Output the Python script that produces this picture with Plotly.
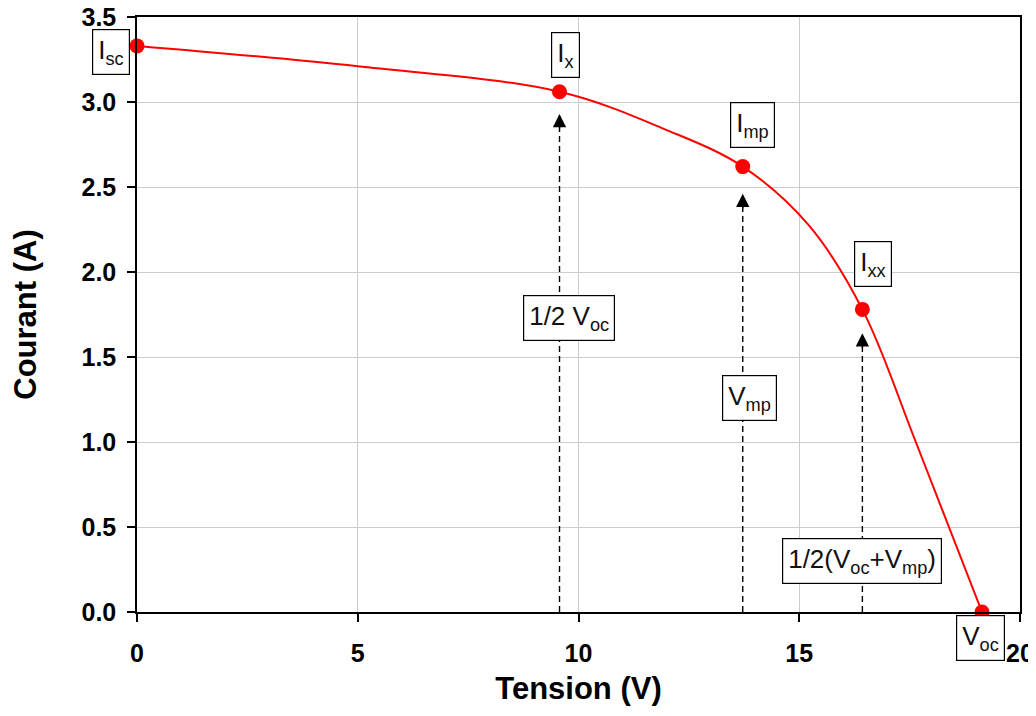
import plotly.graph_objects as go

# I-V curve
volts = [0.0, 5.0, 9.57, 12.0, 13.72, 15.2, 16.43, 17.64, 19.14]
amps = [3.33, 3.21, 3.06, 2.835, 2.62, 2.28, 1.78, 1.00, 0.0]

# Key points
pt_names = ["I<sub>sc</sub>", "I<sub>x</sub>", "I<sub>mp</sub>", "I<sub>xx</sub>", "V<sub>oc</sub>"]
pt_v = [0.0, 9.57, 13.72, 16.43, 19.14]
pt_i = [3.33, 3.06, 2.62, 1.78, 0.0]

# Voltage markers (dashed arrows)
arrow_names = ["1/2 V<sub>oc</sub>", "V<sub>mp</sub>", "1/2(V<sub>oc</sub>+V<sub>mp</sub>)"]
arrow_v = [9.57, 13.72, 16.43]
arrow_tip = [2.93, 2.46, 1.64]

x_ticks = [0, 5, 10, 15, 20]
y_ticks = [0.0, 0.5, 1.0, 1.5, 2.0, 2.5, 3.0, 3.5]

FONT = "Arial, 'Liberation Sans', sans-serif"

fig = go.Figure()

fig.add_trace(go.Scatter(x=volts, y=amps, mode="lines",
                         line=dict(color="#ff0000", width=2, shape="spline", smoothing=1.0),
                         hoverinfo="skip", showlegend=False, cliponaxis=False))

for v, t in zip(arrow_v, arrow_tip):
    fig.add_trace(go.Scatter(x=[v, v], y=[0, t], mode="lines",
                             line=dict(color="black", width=1.4, dash="6px,4px"),
                             hoverinfo="skip", showlegend=False))
    fig.add_annotation(x=v, y=t, ax=0, ay=16, xref="x", yref="y", text="",
                       showarrow=True, arrowhead=2, arrowsize=1.9, arrowwidth=1.4,
                       arrowcolor="black", standoff=0)

fig.add_trace(go.Scatter(x=pt_v, y=pt_i, mode="markers",
                         marker=dict(color="#ff0000", size=15),
                         hoverinfo="skip", showlegend=False, cliponaxis=False))

box = dict(showarrow=False, xref="x", yref="y", xanchor="center", yanchor="middle",
           bgcolor="white", bordercolor="black", borderwidth=1.2, borderpad=5,
           font=dict(family=FONT, size=26, color="#111111"))

# label offsets in pixels relative to each point (layout)
pt_label_shift = [(-26, -6), (6, 37), (10, 42), (11, 45), (-2, -26)]
for name, v, i, (sx, sy) in zip(pt_names, pt_v, pt_i, pt_label_shift):
    fig.add_annotation(x=v, y=i, text=name, xshift=sx, yshift=sy, **box)

# arrow label positions: (pixel x offset, y in data units)
arrow_label_pos = [(9, 1.73), (7, 1.26), (0, 0.30)]
for name, v, (sx, ly) in zip(arrow_names, arrow_v, arrow_label_pos):
    fig.add_annotation(x=v, y=ly, text=name, xshift=sx, **box)

axis_common = dict(showline=True, linecolor="black", linewidth=1.5, mirror=True,
                   ticks="outside", ticklen=8, tickwidth=1.5, tickcolor="black",
                   showgrid=True, gridcolor="#cccccc", gridwidth=1, zeroline=False,
                   ticklabeloverflow="allow",
                   tickfont=dict(family=FONT, size=25, color="black", weight="bold"))

fig.update_xaxes(range=[0, 20], tickvals=x_ticks, ticktext=[str(t) for t in x_ticks],
                 ticklabelstandoff=10,
                 title=dict(text="<b>Tension (V)</b>", font=dict(family=FONT, size=31, color="black"), standoff=12),
                 **axis_common)
fig.update_yaxes(range=[0, 3.5], tickvals=y_ticks, ticktext=[f"{t:.1f}" for t in y_ticks],
                 ticklabelstandoff=6,
                 title=dict(text="<b>Courant (A)</b>", font=dict(family=FONT, size=31, color="black"), standoff=36),
                 **axis_common)

# page body has an 8px margin, compensate so the plot area matches the reference
fig.update_layout(width=1036, height=716, plot_bgcolor="white", paper_bgcolor="white",
                  margin=dict(l=129, r=24, t=9, b=112, autoexpand=False),
                  font=dict(family=FONT))

fig.write_html("out.html")
